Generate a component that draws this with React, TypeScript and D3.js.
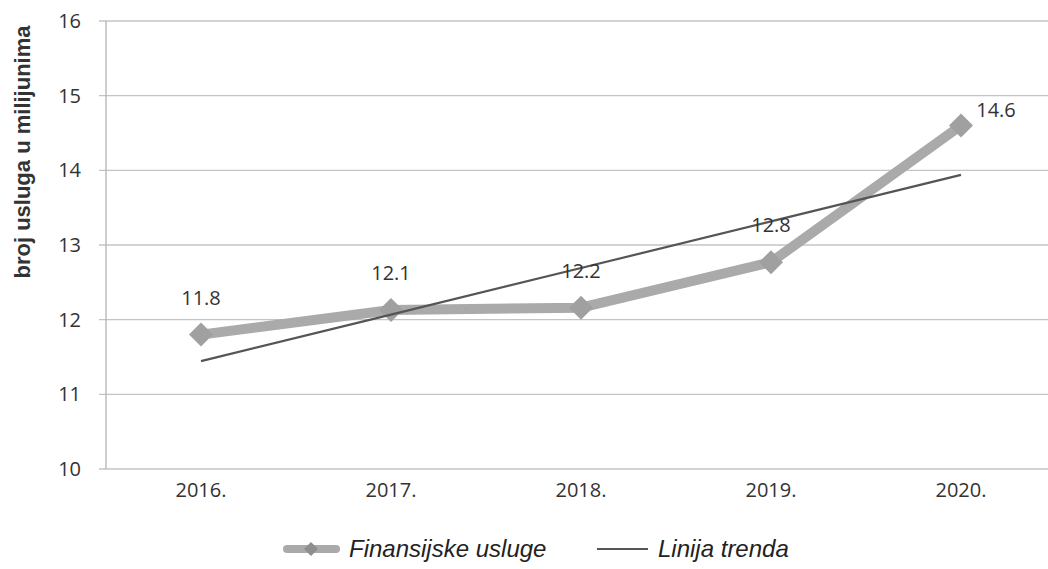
import * as d3 from 'd3';

const years = ['2016.', '2017.', '2018.', '2019.', '2020.'];
const services = [11.8, 12.13, 12.16, 12.77, 14.6];
const yTicks = [10, 11, 12, 13, 14, 15, 16];

const W = 1048;
const H = 569;
const margin = { top: 21, right: -8, bottom: 100, left: 106 };

// square diamond, r = half diagonal
const diamondPath = (r: number) => `M0,${-r}L${r},0L0,${r}L${-r},0Z`;

export default function App() {
  const innerW = W - margin.left - margin.right;
  const innerH = H - margin.top - margin.bottom;

  const x = d3.scaleBand().domain(years).range([0, innerW]);
  const y = d3.scaleLinear().domain([10, 16]).range([innerH, 0]);
  const cx = (d: string) => (x(d) || 0) + x.bandwidth() / 2;

  // least squares trend over the series
  const idx = services.map((_, i) => i);
  const mx = d3.mean(idx) || 0;
  const my = d3.mean(services) || 0;
  const slope =
    d3.sum(idx, (i) => (i - mx) * (services[i] - my)) / d3.sum(idx, (i) => (i - mx) ** 2);
  const trend = idx.map((i) => my + slope * (i - mx));

  const line = d3
    .line<number>()
    .x((_, i) => cx(years[i]))
    .y((d) => y(d));

  const font = '"Open Sans", Carlito, sans-serif';
  const arial = '"Liberation Sans", Arial, sans-serif';

  return (
    <svg width={W} height={H} style={{ position: 'fixed', left: 0, top: 0, background: '#fff' }}>
      <g transform={`translate(${margin.left},${margin.top})`}>
        {yTicks.map((t) => (
          <g key={t}>
            <line x1={-7} x2={innerW} y1={y(t)} y2={y(t)} stroke="#c4c4c4" strokeWidth={1.3} />
            <text
              x={-25}
              y={y(t)}
              dy="0.35em"
              textAnchor="end"
              fontFamily={font}
              fontSize={20}
              fill="#333"
            >
              {t}
            </text>
          </g>
        ))}
        <line x1={0} x2={0} y1={0} y2={innerH} stroke="#b4b4b4" strokeWidth={1.3} />
        {years.map((yr) => (
          <text
            key={yr}
            x={cx(yr)}
            y={innerH + 28}
            textAnchor="middle"
            fontFamily={font}
            fontSize={20}
            fill="#333"
          >
            {yr}
          </text>
        ))}

        <path d={line(services) || ''} fill="none" stroke="#aaaaaa" strokeWidth={10} strokeLinejoin="round" />
        {services.map((v, i) => (
          <path key={i} d={diamondPath(12)} transform={`translate(${cx(years[i])},${y(v)})`} fill="#a0a0a0" />
        ))}
        <path d={line(trend) || ''} fill="none" stroke="#555" strokeWidth={2.2} />

        {services.map((v, i) => {
          const last = i === services.length - 1;
          return (
            <text
              key={i}
              x={cx(years[i]) + (last ? 35 : 0)}
              y={y(v) + (last ? -16 : -37)}
              dy="0.35em"
              textAnchor="middle"
              fontFamily={font}
              fontSize={20}
              fill="#333"
            >
              {d3.format('.1f')(v)}
            </text>
          );
        })}
      </g>

      <text
        transform="translate(30,152) rotate(-90)"
        textAnchor="middle"
        fontFamily={arial}
        fontWeight="bold"
        fontSize={22}
        fill="#333"
      >
        broj usluga u milijunima
      </text>

      <g transform="translate(0,549)">
        <line x1={287} x2={336} y1={0} y2={0} stroke="#aaaaaa" strokeWidth={8} strokeLinecap="round" />
        <path d={diamondPath(7)} transform="translate(311,0)" fill="#8e8e8e" />
        <text x={349} y={0} dy="0.35em" fontFamily={arial} fontStyle="italic" fontSize={24} fill="#222">
          Finansijske usluge
        </text>
        <line x1={597} x2={648} y1={0} y2={0} stroke="#555" strokeWidth={2.2} />
        <text x={658} y={0} dy="0.35em" fontFamily={arial} fontStyle="italic" fontSize={24} fill="#222">
          Linija trenda
        </text>
      </g>
    </svg>
  );
}
